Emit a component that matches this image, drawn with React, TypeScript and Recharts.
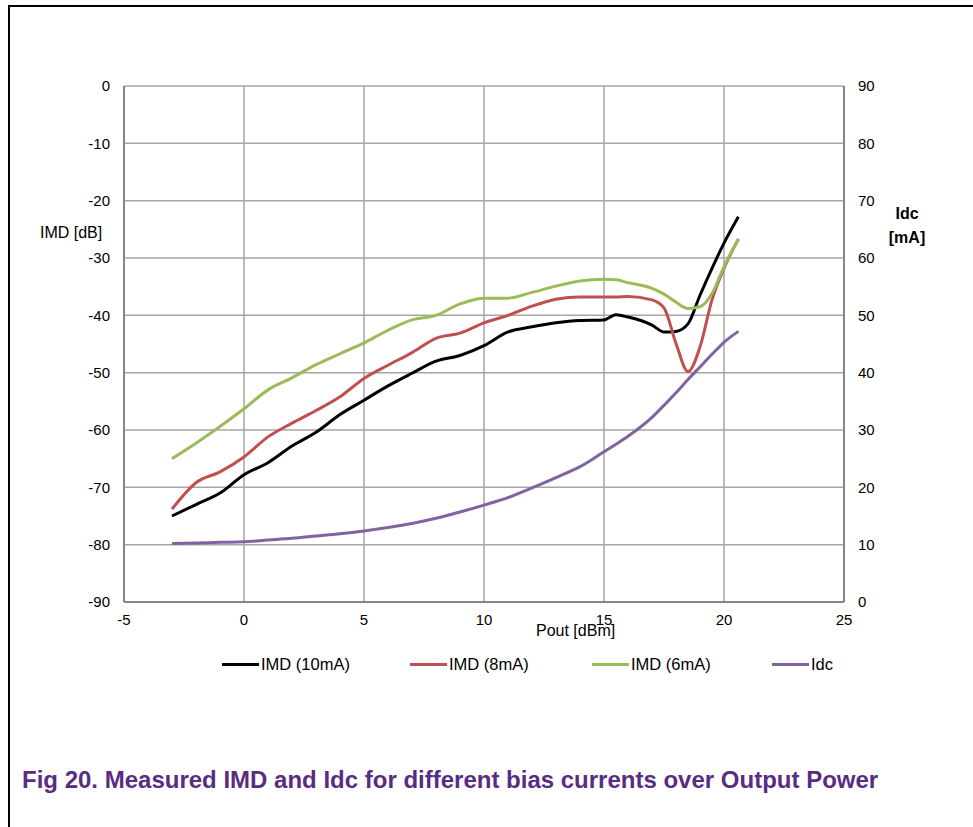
import React from 'react';
import { LineChart, Line, XAxis, YAxis, CartesianGrid } from 'recharts';

// Pout [dBm] sample positions shared by all curves
const pout = [-3, -2, -1, 0, 1, 2, 3, 4, 5, 6, 7, 8, 9, 10, 11, 12, 13, 14, 15, 15.5, 16, 17, 17.5, 18, 18.5, 19, 19.5, 20, 20.6];

// IMD [dB]
const imd10mA = [-75, -73, -71, -67.8, -65.7, -62.8, -60.4, -57.3, -54.8, -52.3, -50.1, -48, -47, -45.3, -42.9, -42, -41.3, -40.9, -40.8, -39.9, -40.3, -41.7, -42.9, -42.8, -41.5, -36.5, -31.8, -27.4, -22.8];
const imd8mA = [-73.8, -69.2, -67.3, -64.7, -61.2, -58.8, -56.6, -54.2, -51, -48.7, -46.5, -44, -43.1, -41.3, -40, -38.4, -37.2, -36.8, -36.8, -36.8, -36.7, -37.3, -38.7, -44.9, -49.8, -45.5, -37.3, -31.8, -26.7];
const imd6mA = [-65, -62.3, -59.4, -56.3, -53, -50.9, -48.6, -46.7, -44.8, -42.6, -40.8, -40, -38, -37, -37, -36, -34.9, -34, -33.7, -33.8, -34.3, -35.3, -36.3, -37.7, -38.8, -38.5, -36.2, -31.5, -26.7];

// Idc [mA]
const idc = [10.2, 10.3, 10.4, 10.5, 10.8, 11.1, 11.5, 11.9, 12.4, 13, 13.7, 14.6, 15.7, 16.9, 18.2, 19.9, 21.7, 23.6, 26.2, 27.5, 28.9, 32.2, 34.3, 36.5, 38.8, 41, 43.2, 45.3, 47.2];

const xTicks = [-5, 0, 5, 10, 15, 20, 25];
const imdTicks = [-90, -80, -70, -60, -50, -40, -30, -20, -10, 0];
const idcTicks = [0, 10, 20, 30, 40, 50, 60, 70, 80, 90];

const series = [
  { key: 'imd10', name: 'IMD (10mA)', color: '#000000', axis: 'left' },
  { key: 'imd8', name: 'IMD (8mA)', color: '#C0504D', axis: 'left' },
  { key: 'imd6', name: 'IMD (6mA)', color: '#9BBB59', axis: 'left' },
  { key: 'idc', name: 'Idc', color: '#8064A2', axis: 'right' },
];

const data = pout.map((p, i) => ({
  pout: p,
  imd10: imd10mA[i],
  imd8: imd8mA[i],
  imd6: imd6mA[i],
  idc: idc[i],
}));

const font = 'Arial, "Liberation Sans", sans-serif';
const tickStyle = { fill: '#000', fontSize: 15, fontFamily: font };

const legendPos = [222, 410, 592, 772];

export default function App() {
  return (
    <div style={{ position: 'absolute', left: 0, top: 0, width: 973, height: 827, fontFamily: font }}>
      <div
        style={{
          position: 'absolute',
          left: 8,
          top: 5,
          width: 965,
          height: 822,
          borderTop: '2px solid #000',
          borderLeft: '2px solid #000',
          boxSizing: 'border-box',
        }}
      />
      <div style={{ position: 'absolute', left: 0, top: 0 }}>
        <LineChart width={973} height={700} data={data} margin={{ top: 86, right: 69, bottom: 68, left: 64 }}>
          <CartesianGrid yAxisId="left" stroke="#a6a6a6" strokeWidth={1.5} ticks={imdTicks} />
          <XAxis
            dataKey="pout"
            type="number"
            domain={[-5, 25]}
            ticks={xTicks}
            interval={0}
            height={30}
            stroke="#868686"
            strokeWidth={2}
            tickLine={false}
            tickSize={4}
            tickMargin={8}
            tick={tickStyle}
          />
          <YAxis
            yAxisId="left"
            orientation="left"
            domain={[-90, 0]}
            ticks={imdTicks}
            interval={0}
            width={60}
            stroke="#868686"
            strokeWidth={2}
            tickLine={false}
            tickSize={4}
            tickMargin={10}
            tick={tickStyle}
          />
          <YAxis
            yAxisId="right"
            orientation="right"
            domain={[0, 90]}
            ticks={idcTicks}
            interval={0}
            width={60}
            stroke="#868686"
            strokeWidth={2}
            tickLine={false}
            tickSize={4}
            tickMargin={10}
            tick={tickStyle}
          />
          {series.map((s) => (
            <Line
              key={s.key}
              yAxisId={s.axis}
              dataKey={s.key}
              name={s.name}
              type="monotone"
              stroke={s.color}
              strokeWidth={3}
              dot={false}
              isAnimationActive={false}
            />
          ))}
        </LineChart>
      </div>

      {/* axis titles */}
      <div style={{ position: 'absolute', left: 40, top: 224, fontSize: 16 }}>IMD [dB]</div>
      <div
        style={{
          position: 'absolute',
          left: 868,
          top: 202,
          width: 78,
          textAlign: 'center',
          fontSize: 16,
          fontWeight: 'bold',
          lineHeight: '24px',
        }}
      >
        Idc
        <br />
        [mA]
      </div>
      <div style={{ position: 'absolute', left: 536, top: 622, fontSize: 16 }}>Pout [dBm]</div>

      {/* legend */}
      {series.map((s, i) => (
        <div
          key={s.key}
          style={{ position: 'absolute', left: legendPos[i], top: 655, display: 'flex', alignItems: 'center', fontSize: 16.5 }}
        >
          <div style={{ width: 37, height: 3, background: s.color, marginRight: 2 }} />
          <span>{s.name}</span>
        </div>
      ))}

      {/* caption */}
      <div
        style={{
          position: 'absolute',
          left: 22,
          top: 766,
          fontSize: 24,
          fontWeight: 'bold',
          color: '#582C83',
          whiteSpace: 'nowrap',
        }}
      >
        Fig 20. Measured IMD and Idc for different bias currents over Output Power
      </div>
    </div>
  );
}
